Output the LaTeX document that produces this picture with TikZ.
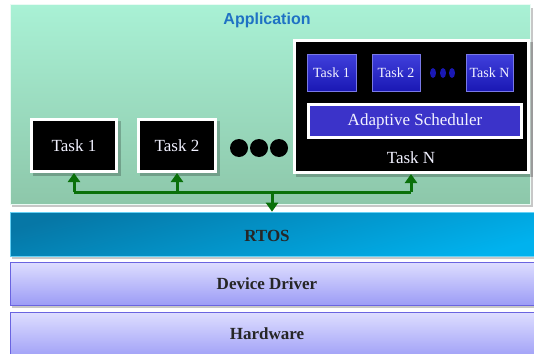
\documentclass[tikz,border=0pt]{standalone}
\usepackage{fontspec}
\setmainfont{Liberation Serif}
\newfontfamily\appfont{Liberation Sans}
\usetikzlibrary{arrows.meta,shapes.geometric}
\definecolor{mintTop}{HTML}{A9F1D5}
\definecolor{mintBot}{HTML}{8DC7AA}
\definecolor{rtosDark}{HTML}{0677A6}
\definecolor{rtosLight}{HTML}{00B2EE}
\definecolor{lavTop}{HTML}{DEDEFF}
\definecolor{lavBot}{HTML}{9C9CF6}
\definecolor{lavEdge}{HTML}{6A64E0}
\definecolor{appBlue}{HTML}{1F72C4}
\definecolor{busGreen}{HTML}{0A700A}
\definecolor{chipTop}{HTML}{4040DC}
\definecolor{chipBot}{HTML}{1A18B4}
\definecolor{schedFill}{HTML}{3B33C9}
\definecolor{taskText}{HTML}{F2F2FF}
\tikzset{
  layer/.style={rectangle, inner sep=0pt, minimum width=530pt, minimum height=#1},
  layertext/.style={font=\bfseries\fontsize{17}{20}\selectfont, text=black!85},
  shadowbox/.style={fill=black, fill opacity=0.22, draw=none},
  bigtask/.style={rectangle, inner sep=0pt, fill=black, draw=white, line width=3pt, text=taskText, font=\fontsize{17}{20}\selectfont},
  chip/.style={rectangle, inner sep=0pt, minimum width=#1, minimum height=37pt, top color=chipTop, bottom color=chipBot, draw=chipTop!70!white, line width=0.8pt, text=taskText, font=\fontsize{14}{16}\selectfont},
  busline/.style={draw=busGreen, line width=3pt},
  busarrow/.style={busline, -{Triangle[width=12pt,length=9pt]}},
  bigdot/.style={circle, fill=black, inner sep=0pt, minimum size=18pt},
  smalldot/.style={ellipse, fill=chipBot, inner sep=0pt, minimum width=6pt, minimum height=10pt}
}
\begin{document}
\begin{tikzpicture}[x=1pt,y=-1pt]
\useasboundingbox (0,0) rectangle (534,353);
\clip (0,0) rectangle (534,353);
% drop shadows of the stacked layers
\fill[shadowbox] (12,8) rectangle (533,207);
\fill[shadowbox] (12,215) rectangle (540,259);
\fill[shadowbox] (12,265) rectangle (540,308);
\fill[shadowbox] (12,315) rectangle (540,360);
% application layer
\node[rectangle, inner sep=0pt, minimum width=520pt, minimum height=199pt,
      top color=mintTop, bottom color=mintBot, draw=white!75!mintTop, line width=1pt]
      (app) at (270,104.5) {};
\node[font=\appfont\bfseries\fontsize{16}{18}\selectfont, text=appBlue] (applabel) at (267,20) {Application};
% system layers
\node[layer=44pt, top color=rtosDark, bottom color=rtosLight, shading angle=15, draw=rtosLight!60!white, line width=0.6pt] (rtos) at (275,234) {};
\node[layertext] (rtoslabel) at (267,236) {RTOS};
\node[layer=43pt, top color=lavTop, bottom color=lavBot, draw=lavEdge, line width=1pt] (driver) at (275,283.5) {};
\node[layertext] (driverlabel) at (267,284) {Device Driver};
\node[layer=48pt, top color=lavTop, bottom color=lavBot, draw=lavEdge, line width=1pt] (hw) at (275,336) {};
\node[layertext] (hwlabel) at (267,334) {Hardware};
% task boxes shadows
\fill[shadowbox] (33,121) rectangle (121,176);
\fill[shadowbox] (140,121) rectangle (220,176);
\fill[shadowbox] (296,42) rectangle (533,177);
% plain tasks
\node[bigtask, minimum width=85pt, minimum height=52pt] (t1) at (74,145.5) {Task 1};
\node[bigtask, minimum width=77pt, minimum height=52pt] (t2) at (177,145.5) {Task 2};
\node[bigdot] (d1) at (239,148) {};
\node[bigdot] (d2) at (259,148) {};
\node[bigdot] (d3) at (279,148) {};
% task hosting the adaptive scheduler
\node[bigtask, minimum width=234pt, minimum height=132pt] (tN) at (411.5,106.5) {};
\node[text=taskText, font=\fontsize{17}{20}\selectfont] (tNlabel) at (411,158) {Task N};
\node[chip=49pt] (s1) at (331.5,72.5) {Task 1};
\node[chip=48pt] (s2) at (396,72.5) {Task 2};
\node[chip=47pt] (sN) at (489.5,72.5) {Task N};
\node[smalldot] (e1) at (433,73) {};
\node[smalldot] (e2) at (443,73) {};
\node[smalldot] (e3) at (452,73) {};
\node[rectangle, inner sep=0pt, minimum width=213pt, minimum height=33pt, fill=schedFill, draw=white, line width=3pt,
      text=taskText, font=\fontsize{17}{20}\selectfont] (sched) at (415,121) {Adaptive Scheduler};
% bus between the tasks and the RTOS
\coordinate (j1) at (74,192);
\coordinate (j2) at (177,192);
\coordinate (jN) at (411,192);
\coordinate (j0) at (272,192);
\draw[busline] (j1) -- (jN);
\draw[busarrow] (j1) -- (j1 |- t1.south);
\draw[busarrow] (j2) -- (j2 |- t2.south);
\draw[busarrow] (jN) -- (jN |- tN.south);
\draw[busarrow] (j0) -- (j0 |- rtos.north);
\end{tikzpicture}
\end{document}
